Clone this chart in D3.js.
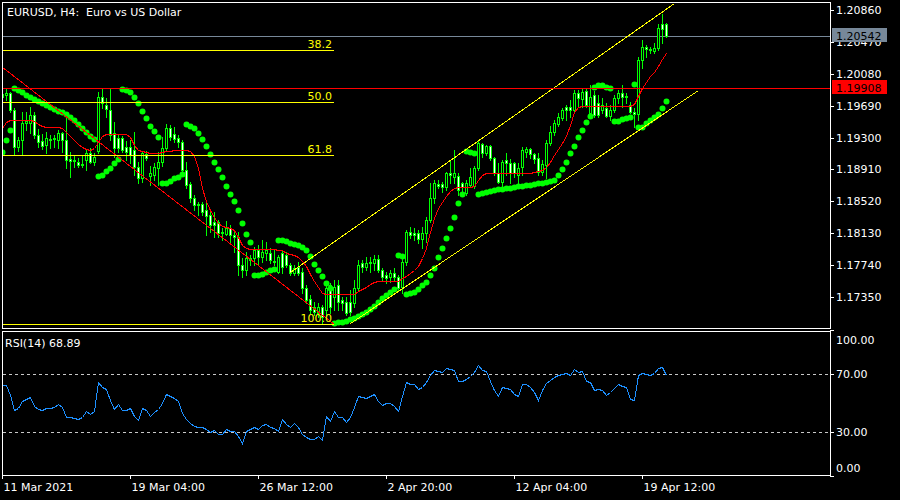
<!DOCTYPE html>
<html><head><meta charset="utf-8">
<script src="https://cdn.jsdelivr.net/npm/d3@7/dist/d3.min.js"></script>
<style>html,body{margin:0;padding:0;background:#000;overflow:hidden}</style>
</head><body><svg id="c" width="900" height="500"></svg>
<script>
// ---------- data (EURUSD H4, 11 Mar 20:00 -> 20 Apr 12:00) ----------
const open = [
1.19796,1.19820,1.19845,1.19637,1.19184,1.19270,1.19478,1.19478,1.19576,1.19331,
1.19258,1.19209,1.19270,1.19282,1.19270,1.19355,1.19270,1.19037,1.19025,1.19001,
1.18964,1.19025,1.19111,1.19001,1.19135,1.19796,1.19698,1.19637,1.19355,1.19294,
1.19294,1.19184,1.19184,1.19147,1.18939,1.18805,1.19098,1.18830,1.18842,1.18927,
1.19001,1.19172,1.19416,1.19343,1.19294,1.19245,1.18903,1.18732,1.18561,1.18487,
1.18487,1.18414,1.18353,1.18267,1.18267,1.18145,1.18120,1.18194,1.18108,1.18084,
1.17741,1.17680,1.17802,1.17827,1.17924,1.17839,1.17888,1.17888,1.17790,1.17655,
1.17888,1.17863,1.17741,1.17643,1.17717,1.17655,1.17460,1.17325,1.17227,1.17154,
1.17227,1.17191,1.17497,1.17350,1.17497,1.17313,1.17288,1.17288,1.17276,1.17460,
1.17766,1.17717,1.17778,1.17766,1.17815,1.17680,1.17619,1.17594,1.17643,1.17594,
1.17472,1.17778,1.18145,1.18132,1.18132,1.18059,1.18132,1.18291,1.18561,1.18732,
1.18732,1.18695,1.18866,1.18817,1.18830,1.18744,1.18622,1.18720,1.18707,1.18927,
1.19221,1.19111,1.19196,1.19049,1.18866,1.18756,1.19025,1.18988,1.18988,1.18842,
1.18939,1.19123,1.19160,1.19098,1.19049,1.18878,1.18964,1.19233,1.19368,1.19465,
1.19539,1.19673,1.19673,1.19637,1.19845,1.19771,1.19869,1.19600,1.19820,1.19722,
1.19637,1.19661,1.19563,1.19637,1.19783,1.19845,1.19796,1.19698,1.19612,1.19588,
1.20248,1.20407,1.20383,1.20358,1.20395,1.20689,1.20689];
const high = [
1.19869,1.19894,1.19857,1.19661,1.19307,1.19612,1.19612,1.19673,1.19612,1.19404,
1.19343,1.19368,1.19331,1.19331,1.19392,1.19368,1.19539,1.19123,1.19086,1.19049,
1.19086,1.19147,1.19172,1.19111,1.19857,1.19906,1.19783,1.19906,1.19490,1.19331,
1.19319,1.19258,1.19270,1.19368,1.19001,1.19135,1.19135,1.18952,1.18988,1.19123,
1.19307,1.19465,1.19453,1.19429,1.19331,1.19270,1.19001,1.18756,1.18597,1.18512,
1.18512,1.18500,1.18414,1.18389,1.18291,1.18194,1.18279,1.18230,1.18169,1.18145,
1.17827,1.17900,1.17863,1.17961,1.17986,1.18047,1.18022,1.17949,1.17924,1.17863,
1.17924,1.17900,1.17766,1.17741,1.17778,1.17704,1.17497,1.17374,1.17288,1.17276,
1.17252,1.17497,1.17521,1.17558,1.17558,1.17350,1.17350,1.17435,1.17558,1.17802,
1.17802,1.17839,1.17839,1.17863,1.17863,1.17704,1.17655,1.17680,1.17704,1.17619,
1.17863,1.18169,1.18206,1.18194,1.18169,1.18206,1.18328,1.18744,1.18781,1.18781,
1.18756,1.18878,1.19025,1.19147,1.18866,1.18756,1.18781,1.18927,1.18952,1.19270,
1.19233,1.19209,1.19209,1.19062,1.18988,1.19025,1.19111,1.19037,1.19001,1.18988,
1.19184,1.19184,1.19172,1.19111,1.19111,1.19025,1.19270,1.19441,1.19514,1.19600,
1.19661,1.19698,1.19759,1.19881,1.19881,1.19894,1.19906,1.19942,1.19869,1.19820,
1.19783,1.19722,1.19698,1.19820,1.19881,1.19942,1.19845,1.19735,1.19661,1.20285,
1.20493,1.20432,1.20407,1.20456,1.20689,1.20811,1.20701];
const low = [
1.19722,1.19759,1.19612,1.19086,1.19135,1.19086,1.19392,1.19355,1.19294,1.19184,
1.19160,1.19111,1.19172,1.19184,1.19172,1.19123,1.18927,1.18817,1.18939,1.18939,
1.18939,1.18903,1.18988,1.18964,1.19111,1.19661,1.19551,1.19270,1.19062,1.19123,
1.19123,1.19025,1.18988,1.18842,1.18744,1.18756,1.19025,1.18720,1.18781,1.18720,
1.18952,1.19147,1.19270,1.19245,1.19184,1.18891,1.18683,1.18512,1.18414,1.18353,
1.18353,1.18108,1.18145,1.18084,1.18084,1.18047,1.18108,1.18022,1.17900,1.17619,
1.17594,1.17619,1.17741,1.17741,1.17741,1.17778,1.17802,1.17766,1.17741,1.17643,
1.17643,1.17717,1.17619,1.17619,1.17619,1.17399,1.17276,1.17154,1.17130,1.17105,
1.17020,1.17130,1.17154,1.17191,1.17191,1.17191,1.17130,1.17130,1.17227,1.17435,
1.17655,1.17680,1.17655,1.17680,1.17655,1.17558,1.17521,1.17533,1.17558,1.17435,
1.17399,1.17741,1.18071,1.18047,1.18010,1.17949,1.18022,1.18267,1.18500,1.18683,
1.18634,1.18658,1.18744,1.18744,1.18597,1.18597,1.18597,1.18695,1.18683,1.18903,
1.19062,1.19086,1.19025,1.18842,1.18744,1.18695,1.18842,1.18744,1.18817,1.18720,
1.18842,1.19062,1.19049,1.18988,1.18842,1.18842,1.18805,1.19209,1.19331,1.19441,
1.19514,1.19514,1.19551,1.19612,1.19673,1.19673,1.19673,1.19551,1.19551,1.19551,
1.19600,1.19551,1.19514,1.19612,1.19722,1.19673,1.19722,1.19600,1.19429,1.19514,
1.20150,1.20285,1.20334,1.20334,1.20371,1.20456,1.20529];
const close = [
1.19832,1.19845,1.19637,1.19184,1.19270,1.19478,1.19502,1.19576,1.19331,1.19245,
1.19196,1.19294,1.19282,1.19294,1.19355,1.19270,1.19025,1.19013,1.19013,1.18964,
1.18976,1.19111,1.19001,1.19062,1.19796,1.19722,1.19649,1.19331,1.19172,1.19172,
1.19147,1.19123,1.19086,1.18939,1.18805,1.19111,1.19049,1.18866,1.18939,1.19001,
1.19172,1.19416,1.19307,1.19282,1.19245,1.18903,1.18720,1.18561,1.18475,1.18475,
1.18389,1.18340,1.18230,1.18230,1.18132,1.18132,1.18194,1.18108,1.18084,1.17741,
1.17680,1.17827,1.17827,1.17924,1.17839,1.17900,1.17924,1.17802,1.17778,1.17839,
1.17717,1.17741,1.17643,1.17704,1.17643,1.17460,1.17313,1.17191,1.17166,1.17227,
1.17105,1.17460,1.17227,1.17472,1.17288,1.17276,1.17154,1.17166,1.17460,1.17741,
1.17717,1.17766,1.17766,1.17815,1.17680,1.17594,1.17582,1.17643,1.17594,1.17460,
1.17778,1.18145,1.18108,1.18108,1.18059,1.18132,1.18291,1.18561,1.18744,1.18707,
1.18695,1.18866,1.18842,1.18866,1.18658,1.18695,1.18744,1.18817,1.18927,1.19233,
1.19111,1.19196,1.19049,1.18866,1.18756,1.19001,1.18988,1.18866,1.18866,1.18927,
1.19147,1.19160,1.19098,1.19037,1.18878,1.18976,1.19233,1.19368,1.19478,1.19551,
1.19637,1.19637,1.19637,1.19845,1.19783,1.19857,1.19698,1.19796,1.19576,1.19576,
1.19698,1.19563,1.19637,1.19783,1.19845,1.19796,1.19808,1.19612,1.19588,1.20248,
1.20407,1.20383,1.20371,1.20395,1.20640,1.20628,1.20542];
// Parabolic SAR
const sar = [
1.19123,1.19270,1.19392,1.19906,1.19881,1.19857,1.19820,1.19796,1.19771,1.19747,
1.19722,1.19698,1.19673,1.19649,1.19624,1.19612,1.19588,1.19551,1.19514,1.19465,
1.19416,1.19368,1.19319,1.19282,1.18830,1.18842,1.18891,1.18927,1.18988,1.19037,
1.19894,1.19881,1.19857,1.19796,1.19722,1.19624,1.19539,1.19441,1.19380,1.19307,
1.18744,1.18744,1.18768,1.18805,1.18817,1.18854,1.19465,1.19441,1.19416,1.19355,
1.19282,1.19196,1.19098,1.19001,1.18915,1.18817,1.18707,1.18609,1.18524,1.18414,
1.18254,1.18120,1.18022,1.17619,1.17619,1.17631,1.17655,1.17680,1.17692,1.18047,
1.18047,1.18035,1.18010,1.17998,1.17986,1.17961,1.17924,1.17851,1.17753,1.17680,
1.17607,1.17521,1.17460,1.17032,1.17044,1.17044,1.17056,1.17081,1.17093,1.17117,
1.17142,1.17166,1.17203,1.17240,1.17288,1.17337,1.17374,1.17411,1.17447,1.17863,
1.17851,1.17386,1.17399,1.17411,1.17447,1.17497,1.17533,1.17619,1.17704,1.17839,
1.17949,1.18071,1.18194,1.18328,1.18500,1.18609,1.19135,1.19123,1.19111,1.18609,
1.18622,1.18634,1.18646,1.18658,1.18671,1.18671,1.18683,1.18683,1.18695,1.18707,
1.18707,1.18720,1.18720,1.18732,1.18744,1.18744,1.18756,1.18768,1.18781,1.18842,
1.18915,1.19001,1.19111,1.19196,1.19307,1.19392,1.19490,1.19563,1.19918,1.19942,
1.19942,1.19918,1.19906,1.19502,1.19502,1.19527,1.19539,1.19551,1.19955,1.19429,
1.19429,1.19478,1.19514,1.19551,1.19588,1.19661,1.19747];
// red baseline indicator
const ma = [
1.19416,1.19490,1.19514,1.19514,1.19514,1.19514,1.19514,1.19514,1.19502,1.19465,
1.19441,1.19429,1.19429,1.19429,1.19429,1.19416,1.19368,1.19319,1.19270,1.19221,
1.19184,1.19160,1.19147,1.19172,1.19245,1.19319,1.19343,1.19343,1.19343,1.19343,
1.19343,1.19343,1.19307,1.19209,1.19147,1.19135,1.19123,1.19111,1.19111,1.19111,
1.19123,1.19135,1.19135,1.19147,1.19147,1.19147,1.19147,1.19135,1.19074,1.18927,
1.18683,1.18524,1.18414,1.18328,1.18254,1.18218,1.18206,1.18194,1.18169,1.18084,
1.17986,1.17949,1.17937,1.17937,1.17937,1.17937,1.17937,1.17937,1.17937,1.17924,
1.17924,1.17888,1.17876,1.17863,1.17839,1.17790,1.17729,1.17631,1.17545,1.17472,
1.17399,1.17386,1.17386,1.17386,1.17386,1.17386,1.17386,1.17386,1.17386,1.17423,
1.17447,1.17472,1.17509,1.17533,1.17545,1.17545,1.17545,1.17545,1.17545,1.17545,
1.17582,1.17607,1.17643,1.17680,1.17729,1.17827,1.17949,1.18145,1.18316,1.18438,
1.18512,1.18585,1.18646,1.18683,1.18695,1.18695,1.18695,1.18695,1.18707,1.18781,
1.18842,1.18866,1.18866,1.18866,1.18866,1.18866,1.18866,1.18866,1.18866,1.18866,
1.18866,1.18866,1.18866,1.18878,1.18891,1.18903,1.18939,1.19001,1.19086,1.19160,
1.19233,1.19319,1.19453,1.19612,1.19673,1.19686,1.19686,1.19686,1.19686,1.19686,
1.19686,1.19686,1.19686,1.19686,1.19686,1.19686,1.19686,1.19686,1.19710,1.19808,
1.19906,1.19979,1.20053,1.20102,1.20175,1.20260,1.20334];
// RSI(14)
const rsi = [
62.5,62.5,55.6,45.3,46.5,51.7,52.9,53.8,48.1,46.0,
45.3,46.9,46.5,47.1,49.0,47.6,40.7,40.3,39.8,38.9,
40.3,44.6,42.6,44.2,64.3,61.3,59.7,52.2,46.0,49.4,
44.9,45.3,46.5,41.2,38.5,46.5,45.3,41.2,43.7,46.0,
49.9,56.1,54.5,53.3,51.5,43.0,38.9,36.2,34.3,33.9,
33.4,32.5,29.8,31.6,28.9,28.9,32.3,30.5,30.5,27.5,
22.9,30.5,32.3,33.9,32.3,35.0,35.7,33.9,32.7,30.5,
38.9,35.7,33.9,36.2,33.4,28.9,26.6,25.2,25.2,27.7,
24.7,41.2,38.0,44.2,40.3,40.3,37.1,40.3,47.6,54.5,
54.0,53.3,54.9,56.1,51.7,48.7,49.9,50.3,48.1,44.6,
54.5,64.1,63.1,63.1,59.7,61.3,64.3,68.9,72.3,71.6,
71.4,73.7,73.2,72.7,65.4,65.2,66.3,68.2,71.1,76.2,
72.7,72.1,65.4,58.6,54.9,60.9,60.6,59.5,56.1,54.9,
62.9,62.9,61.3,57.2,52.2,58.6,63.6,65.9,67.5,68.9,
69.8,70.5,69.5,73.2,71.1,72.1,65.2,64.1,59.0,59.9,
58.6,55.6,57.4,60.4,62.9,61.8,61.3,52.6,52.2,69.3,
70.5,69.8,69.3,70.5,73.9,74.6,68.89];

const priceTicks = [1.20860,1.20470,1.20080,1.19690,1.19300,1.18910,1.18520,1.18130,1.17740,1.17350];
const rsiTicks = [100,70,30,0];
const rsiLevels = [70,30];
const dateBars = [0,32,64,96,128,160];
const dateLabels = ["11 Mar 2021","19 Mar 04:00","26 Mar 12:00","2 Apr 20:00","12 Apr 04:00","19 Apr 12:00"];
const fibLevels = [38.2,50.0,61.8,100.0];
const fibStart = {bar:-60, price:1.22440};
const fibEnd = {bar:83, price:1.17020};
const channelUpper = [{bar:72, price:1.17655},{bar:168, price:1.20948}];
const channelLower = [{bar:87, price:1.17032},{bar:174, price:1.19881}];
const bidPrice = 1.20542;
const hlinePrice = 1.19908;
const titleText = "EURUSD, H4:\u00a0 Euro vs US Dollar";

// ---------- drawing ----------
const FONT = "DejaVu Sans";
const svg = d3.select('#c');
svg.append('rect').attr('width',900).attr('height',500).attr('fill','#000');
const n = close.length;
const idx = d3.range(n);
const x = d3.scaleLinear().domain([0,n-1]).range([2,2+4*(n-1)]);
const y = d3.scaleLinear().domain([1.17350,1.20860]).range([297,10]).interpolate(d3.interpolateRound);
const yr = d3.scaleLinear().domain([0,100]).range([476,330]).interpolate(d3.interpolateRound);
const cx = i => x(i)+0.5;

const defs = svg.append('defs');
defs.append('clipPath').attr('id','cm').append('rect').attr('x',3).attr('y',3).attr('width',827).attr('height',325);
defs.append('clipPath').attr('id','cs').append('rect').attr('x',3).attr('y',332).attr('width',827).attr('height',143);

const gm = svg.append('g').attr('clip-path','url(#cm)');
// bid line
gm.append('line').attr('x1',3).attr('x2',830).attr('y1',y(bidPrice)+0.5).attr('y2',y(bidPrice)+0.5)
  .attr('stroke','#778899').attr('shape-rendering','crispEdges');
// candles
const gc = gm.append('g').attr('shape-rendering','crispEdges');
gc.selectAll('line').data(idx).join('line')
  .attr('x1',cx).attr('x2',cx)
  .attr('y1',i=>y(high[i])).attr('y2',i=>y(low[i])+1)
  .attr('stroke','#00ff00');
gc.selectAll('path').data(idx).join('path')
  .attr('d',i=>{
    const t=y(Math.max(open[i],close[i]))+0.5, b=y(Math.min(open[i],close[i]))+0.5;
    const l=x(i)-0.5, r=x(i)+1.5;
    return `M${l},${t}H${r}V${b}H${l}Z`;
  })
  .attr('fill',i=>close[i]>=open[i]?'#000':'#fff')
  .attr('stroke','#00ff00');
// red indicator line
gm.append('path').datum(idx)
  .attr('d',d3.line().x(cx).y(i=>y(ma[i])+0.5))
  .attr('fill','none').attr('stroke','#ff0000').attr('shape-rendering','crispEdges');
// SAR
gm.append('g').selectAll('circle').data(idx).join('circle')
  .attr('cx',cx).attr('cy',i=>y(sar[i])+0.5).attr('r',3).attr('fill','#00ff00');
// Fibonacci
const fibPrice = L => fibStart.price-(fibStart.price-fibEnd.price)*L/100;
gm.append('line')
  .attr('x1',cx(fibStart.bar)).attr('y1',y(fibStart.price)+0.5)
  .attr('x2',cx(fibEnd.bar)).attr('y2',y(fibEnd.price)+0.5)
  .attr('stroke','#ff0000').attr('shape-rendering','crispEdges');
const gf = gm.append('g');
gf.selectAll('line').data(fibLevels).join('line')
  .attr('x1',Math.max(3,cx(fibStart.bar))).attr('x2',cx(fibEnd.bar)-1)
  .attr('y1',L=>y(fibPrice(L))+0.5).attr('y2',L=>y(fibPrice(L))+0.5)
  .attr('stroke','#ffff00').attr('stroke-width',1).attr('shape-rendering','crispEdges');
gf.selectAll('text').data(fibLevels).join('text')
  .attr('x',cx(fibEnd.bar)-2.5).attr('y',L=>y(fibPrice(L))-2)
  .attr('text-anchor','end').attr('fill','#ffff00')
  .attr('font-family',FONT).attr('font-size',11)
  .text(L=>L.toFixed(1));
// channel trendlines
[channelUpper,channelLower].forEach(c=>{
  gm.append('line')
    .attr('x1',cx(c[0].bar)).attr('y1',y(c[0].price)+0.5)
    .attr('x2',cx(c[1].bar)).attr('y2',y(c[1].price)+0.5)
    .attr('stroke','#ffff00').attr('shape-rendering','crispEdges');
});
// horizontal red line
gm.append('line').attr('x1',3).attr('x2',830).attr('y1',y(hlinePrice)+0.5).attr('y2',y(hlinePrice)+0.5)
  .attr('stroke','#ff0000').attr('shape-rendering','crispEdges');

// RSI subwindow
const gs = svg.append('g').attr('clip-path','url(#cs)');
gs.selectAll('line').data(rsiLevels).join('line')
  .attr('x1',3).attr('x2',830).attr('y1',v=>yr(v)+0.5).attr('y2',v=>yr(v)+0.5)
  .attr('stroke','#c8c8c8').attr('stroke-dasharray','3,3').attr('shape-rendering','crispEdges');
gs.append('path').datum(idx)
  .attr('d',d3.line().x(cx).y(i=>yr(rsi[i])+0.5))
  .attr('fill','none').attr('stroke','#1e90ff').attr('shape-rendering','crispEdges');

// frames
const fr = svg.append('g').attr('fill','none').attr('stroke','#fff').attr('shape-rendering','crispEdges');
fr.append('rect').attr('x',2.5).attr('y',2.5).attr('width',828).attr('height',326);
fr.append('rect').attr('x',2.5).attr('y',331.5).attr('width',828).attr('height',144);

// price axis
const ax = svg.append('g').attr('transform','translate(830,0)')
  .call(d3.axisRight(y).tickValues(priceTicks).tickSize(4).tickPadding(2).tickFormat(d=>d.toFixed(5)));
ax.select('.domain').remove();
ax.selectAll('line').attr('stroke','#fff').attr('shape-rendering','crispEdges');
ax.selectAll('text').attr('fill','#fff').attr('font-family',FONT).attr('font-size',11);
// labels for bid & line
[[bidPrice,'#778899'],[hlinePrice,'#ff0000']].forEach(([p,c])=>{
  svg.append('rect').attr('x',832).attr('y',y(p)-8).attr('width',55).attr('height',14).attr('fill',c);
  svg.append('text').attr('x',836).attr('y',y(p)+4).attr('fill','#000')
    .attr('font-family',FONT).attr('font-size',11).text(p.toFixed(5));
});

// RSI axis
const ar = svg.append('g').attr('transform','translate(830,0)')
  .call(d3.axisRight(yr).tickValues(rsiTicks).tickSize(4).tickPadding(2).tickFormat(d=>d.toFixed(2)));
ar.select('.domain').remove();
ar.selectAll('line').attr('stroke','#fff').attr('shape-rendering','crispEdges');
ar.selectAll('text').attr('fill','#fff').attr('font-family',FONT).attr('font-size',11)
  .attr('y',d=>d===100?10:(d===0?-8:0));

// date axis
const axd = svg.append('g').attr('transform','translate(0,475)')
  .call(d3.axisBottom(x).tickValues(dateBars).tickSize(4).tickPadding(4).tickFormat((d,i)=>dateLabels[i]));
axd.select('.domain').remove();
axd.selectAll('line').attr('stroke','#fff').attr('shape-rendering','crispEdges');
axd.selectAll('text').attr('fill','#fff').attr('font-family',FONT).attr('font-size',11)
  .attr('text-anchor','start').attr('x',1);

// titles
svg.append('text').attr('x',7).attr('y',16).attr('fill','#fff').attr('font-family',FONT).attr('font-size',11)
  .text(titleText);
svg.append('text').attr('x',5).attr('y',347).attr('fill','#fff').attr('font-family',FONT).attr('font-size',11)
  .text(`RSI(14) ${rsi[n-1].toFixed(2)}`);
</script></body></html>
